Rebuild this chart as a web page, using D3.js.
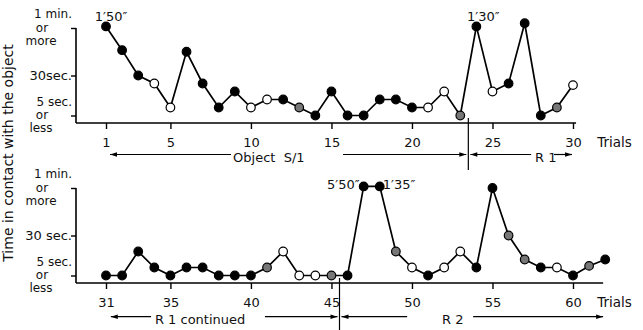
<!DOCTYPE html>
<html lang="en">
<head>
<meta charset="UTF-8">
<title>Time in contact with the object</title>
<script src="https://d3js.org/d3.v7.min.js"></script>
<style>
    body { margin: 0; background: #fff; }
    svg text { font-family: "DejaVu Sans", sans-serif; fill: #111; }
</style>
</head>
<body>
<script>
    // trials and seconds in contact (values above 60 drawn at the "1 min. or more" level)
    var trialsTop = [1, 2, 3, 4, 5, 6, 7, 8, 9, 10, 11, 12, 13, 14, 15, 16, 17, 18, 19, 20, 21, 22, 23, 24, 25, 26, 27, 28, 29, 30];
    var secondsTop = [61, 46, 30, 25, 10, 45, 25, 10, 20, 10, 15, 15, 10, 5, 20, 5, 5, 15, 15, 10, 10, 20, 5, 61, 20, 25, 63, 5, 10, 24];
    var markTop = ["f", "f", "f", "o", "o", "f", "f", "f", "f", "o", "o", "f", "h", "f", "f", "f", "f", "f", "f", "f", "o", "o", "h", "f", "o", "f", "f", "f", "h", "o"];

    var trialsBottom = [31, 32, 33, 34, 35, 36, 37, 38, 39, 40, 41, 42, 43, 44, 45, 46, 47, 48, 49, 50, 51, 52, 53, 54, 55, 56, 57, 58, 59, 60, 61, 62];
    var secondsBottom = [5, 5, 20, 10, 5, 10, 10, 5, 5, 5, 10, 20, 5, 5, 5, 5, 61, 61, 20, 10, 5, 10, 20, 10, 60, 30, 15, 10, 10, 5, 11, 15];
    var markBottom = ["f", "f", "f", "f", "f", "f", "f", "f", "f", "f", "h", "o", "o", "o", "h", "f", "f", "f", "h", "o", "f", "o", "o", "f", "f", "h", "h", "f", "o", "f", "h", "f"];

    var tickTop = [1, 5, 10, 15, 20, 25, 30];
    var tickBottom = [31, 35, 40, 45, 50, 55, 60];
    var levels = [5, 30, 60];
    var levelLabelsTop = [["5 sec.", "or", "less"], ["30sec."], ["1 min.", "or", "more"]];
    var levelLabelsBottom = [["5 sec.", "or", "less"], ["30 sec."], ["1 min.", "or", "more"]];

    var notesTop = [{ trial: 1, text: "1\u203250\u2033" }, { trial: 24, text: "1\u203230\u2033" }];
    var notesBottom = [{ trial: 47, text: "5\u203250\u2033" }, { trial: 48, text: "1\u203235\u2033" }];

    // phase row under each panel
    var phasesTop = ["Object  S/1", "R 1"];
    var phasesBottom = ["R 1 continued", "R 2"];
    var switchTop = 23.5;
    var switchBottom = 45.5;

    var width = 643, height = 330;
    var svg = d3.select("body").append("svg")
        .attr("width", width)
        .attr("height", height);

    var fills = { f: "#000", o: "#fff", h: "#777" };

    function arrowHead(g, x, y, dir) {
        g.append("path")
            .attr("d", "M" + x + "," + y + "l" + (-dir * 7) + ",-2.3l0,4.6z")
            .attr("fill", "#000");
    }

    function hline(g, x1, x2, y) {
        g.append("line")
            .attr("x1", x1).attr("x2", x2)
            .attr("y1", y).attr("y2", y)
            .attr("stroke", "#000").attr("stroke-width", 1.2);
    }

    function drawPanel(offsetY, cfg) {
        var g = svg.append("g").attr("transform", "translate(0," + offsetY + ")");
        var first = cfg.trials[0];
        var x = d3.scaleLinear().domain([first, first + 29]).range([106, 573]);
        var y = d3.scaleLinear().domain(levels).range([115.5, 75.5, 28]);
        var base = 123;

        // axes
        g.append("line")
            .attr("x1", 76).attr("x2", 76)
            .attr("y1", y(60)).attr("y2", base)
            .attr("stroke", "#000").attr("stroke-width", 1.6);
        g.append("line")
            .attr("x1", 76).attr("x2", x(cfg.axisEnd))
            .attr("y1", base).attr("y2", base)
            .attr("stroke", "#000").attr("stroke-width", 1.6);

        var yAxis = g.append("g")
            .attr("transform", "translate(76,0)")
            .call(d3.axisLeft(y).tickValues(levels).tickSize(5).tickFormat(""));
        yAxis.select(".domain").remove();
        yAxis.selectAll("line").attr("stroke-width", 1.4);

        var xAxis = g.append("g")
            .attr("transform", "translate(0," + base + ")")
            .call(d3.axisBottom(x).tickValues(cfg.ticks).tickSize(6));
        xAxis.select(".domain").remove();
        xAxis.selectAll("line").attr("stroke-width", 1.4);
        xAxis.selectAll("text")
            .attr("y", 23.5).attr("dy", null)
            .style("font-size", "13px")
            .style("font-family", "'DejaVu Sans', sans-serif")
            .attr("fill", "#111");

        g.append("text")
            .attr("x", x(first + 30.5))
            .attr("y", base + 24)
            .style("font-size", "13.5px")
            .text("Trials");

        // level labels, stacked lines under and over each tick
        levels.forEach(function (lv, i) {
            var lines = cfg.levelLabels[i];
            var ly = y(lv);
            if (lines.length == 1) {
                g.append("text").attr("x", 72).attr("y", ly + 4.5)
                    .attr("text-anchor", "end").style("font-size", "13px").text(lines[0]);
            } else {
                g.append("text").attr("x", 72).attr("y", ly - 10)
                    .attr("text-anchor", "end").style("font-size", "12px").text(lines[0]);
                g.append("text").attr("x", 42).attr("y", ly + 3.5)
                    .attr("text-anchor", "middle").style("font-size", "12px").text(lines[1]);
                g.append("text").attr("x", 41).attr("y", ly + 16.5)
                    .attr("text-anchor", "middle").style("font-size", "12px").text(lines[2]);
            }
        });

        // series
        var pts = cfg.trials.map(function (t, i) {
            return { trial: t, sec: cfg.seconds[i], mark: cfg.marks[i] };
        });
        var line = d3.line()
            .x(function (d) { return x(d.trial); })
            .y(function (d) { return y(d.sec); });
        g.append("path")
            .datum(pts)
            .attr("d", line)
            .attr("fill", "none")
            .attr("stroke", "#000")
            .attr("stroke-width", 1.7);
        g.selectAll("circle")
            .data(pts)
            .enter()
            .append("circle")
            .attr("cx", function (d) { return x(d.trial); })
            .attr("cy", function (d) { return y(d.sec); })
            .attr("r", 4.3)
            .attr("fill", function (d) { return fills[d.mark]; })
            .attr("stroke", "#000")
            .attr("stroke-width", 1.2);

        // duration notes for the long contacts
        cfg.notes.forEach(function (n, i) {
            var sec = cfg.seconds[cfg.trials.indexOf(n.trial)];
            var s = cfg.noteStyle[i];
            g.append("text")
                .attr("x", x(n.trial) + s.dx)
                .attr("y", y(sec) + s.dy)
                .attr("text-anchor", s.anchor)
                .style("font-size", "13px")
                .text(n.text);
        });

        // phase divider and arrows
        var xs = x(cfg.switchAt);
        var ay = cfg.arrowY;
        g.append("line")
            .attr("x1", xs).attr("x2", xs)
            .attr("y1", base - 5).attr("y2", 170)
            .attr("stroke", "#000").attr("stroke-width", 1.2);

        var p = cfg.phaseLayout;
        hline(g, x(p[0]), x(p[1]), ay);
        arrowHead(g, x(p[0]), ay, -1);
        g.append("text").attr("x", x(p[2])).attr("y", ay + 7)
            .style("font-size", "13px").style("white-space", "pre").text(cfg.phases[0]);
        hline(g, x(p[3]), xs - 2, ay);
        arrowHead(g, xs - 2, ay, 1);
        hline(g, xs + 2, x(p[4]), ay);
        arrowHead(g, xs + 2, ay, -1);
        g.append("text").attr("x", x(p[5])).attr("y", ay + 7)
            .style("font-size", "13px").text(cfg.phases[1]);
        hline(g, x(p[6]), x(p[7]), ay);
        arrowHead(g, x(p[7]), ay, 1);
    }

    drawPanel(0, {
        trials: trialsTop, seconds: secondsTop, marks: markTop,
        ticks: tickTop, levelLabels: levelLabelsTop, axisEnd: 30.19,
        notes: notesTop,
        noteStyle: [{ dx: 5, dy: -5.5, anchor: "middle" }, { dx: 7, dy: -5, anchor: "middle" }],
        switchAt: switchTop, arrowY: 154.5,
        phases: phasesTop,
        phaseLayout: [1.25, 8.76, 8.89, 15.72, 27.4, 27.64, 28.82, 29.94]
    });

    drawPanel(160, {
        trials: trialsBottom, seconds: secondsBottom, marks: markBottom,
        ticks: tickBottom, levelLabels: levelLabelsBottom, axisEnd: 61.87,
        notes: notesBottom,
        noteStyle: [{ dx: -4, dy: 3, anchor: "end" }, { dx: 3, dy: 3, anchor: "start" }],
        switchAt: switchBottom, arrowY: 156.7,
        phases: phasesBottom,
        phaseLayout: [31.3, 33.8, 34.04, 40.87, 49.7, 51.87, 53.8, 61.87]
    });

    // shared y title
    svg.append("text")
        .attr("transform", "translate(13,153) rotate(-90)")
        .attr("text-anchor", "middle")
        .style("font-size", "14px")
        .text("Time in contact with the object");
</script>
</body>
</html>
